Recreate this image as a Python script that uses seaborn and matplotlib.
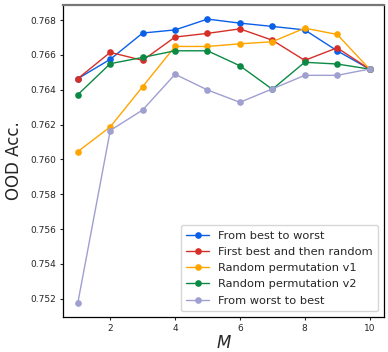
import matplotlib
matplotlib.use("Agg")
import matplotlib.pyplot as plt
import seaborn as sns
import pandas as pd

M = [1, 2, 3, 4, 5, 6, 7, 8, 9, 10]
best_to_worst = [0.76464, 0.76575, 0.76726, 0.76744, 0.76806, 0.76783, 0.76764, 0.76744, 0.76624, 0.76519]
first_best_random = [0.76464, 0.76615, 0.76569, 0.76703, 0.76724, 0.76750, 0.76685, 0.76569, 0.76641, 0.76519]
random_v1 = [0.76045, 0.76187, 0.76418, 0.76649, 0.76649, 0.76664, 0.76676, 0.76754, 0.76718, 0.76519]
random_v2 = [0.76372, 0.76550, 0.76586, 0.76624, 0.76624, 0.76538, 0.76403, 0.76558, 0.76548, 0.76519]
worst_to_best = [0.75176, 0.76166, 0.76284, 0.76489, 0.76399, 0.76328, 0.76405, 0.76483, 0.76483, 0.76519]

labels = ["From best to worst", "First best and then random", "Random permutation v1",
          "Random permutation v2", "From worst to best"]
series = [best_to_worst, first_best_random, random_v1, random_v2, worst_to_best]
colors = ["#0a5fe8", "#d62f28", "#ffa500", "#0b8a45", "#9f9fd0"]

rows = []
for lab, vals in zip(labels, series):
    for m, v in zip(M, vals):
        rows.append({"M": m, "acc": v, "method": lab})
df = pd.DataFrame(rows)

sns.set_style("ticks")
plt.rcParams['font.family'] = ['DejaVu Sans']

fig = plt.figure(figsize=(3.88, 3.52), dpi=100)
ax = fig.add_axes([0.163, 0.0994, 0.827, 0.8866])
sns.lineplot(data=df, x="M", y="acc", hue="method", hue_order=labels,
             palette=colors, marker="o", markersize=4.8, markeredgewidth=0,
             linewidth=1.0, ax=ax)
ax.set_xticks([2, 4, 6, 8, 10])
ax.set_yticks([0.752, 0.754, 0.756, 0.758, 0.760, 0.762, 0.764, 0.766, 0.768])
ax.yaxis.set_major_formatter(matplotlib.ticker.FormatStrFormatter('%.3f'))
ax.tick_params(labelsize=6.5, length=2.5, width=0.8, pad=2.5)
ax.set_xlabel("$M$", fontsize=12, labelpad=1)
ax.set_ylabel("OOD Acc.", fontsize=12, labelpad=5)
for s in ["left", "right", "bottom"]:
    ax.spines[s].set_visible(True)
    ax.spines[s].set_color("black")
    ax.spines[s].set_linewidth(0.9)
ax.spines["top"].set_visible(True)
ax.spines["top"].set_color("#777777")
ax.spines["top"].set_linewidth(1.6)
ax.legend(loc="lower right", fontsize=8.2, title=None, handlelength=2,
          labelspacing=0.55, borderpad=0.5, handletextpad=0.8)
fig.savefig("out.png", dpi=100)
